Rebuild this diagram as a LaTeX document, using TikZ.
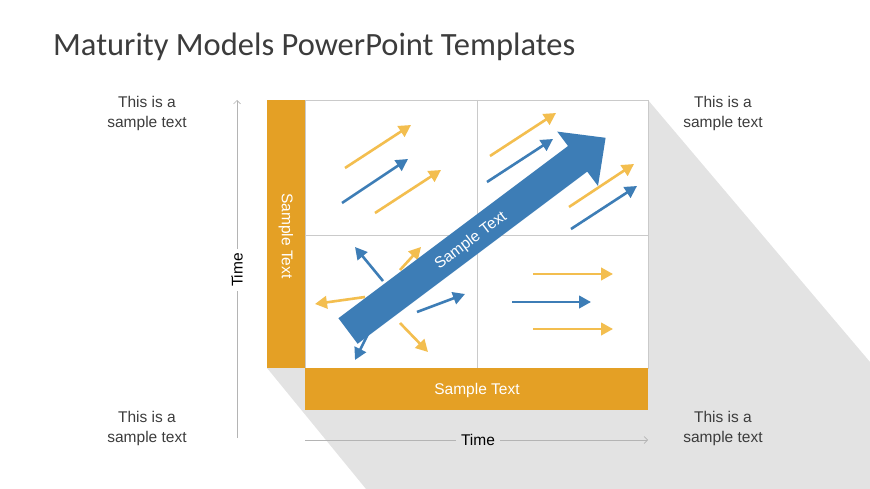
\documentclass[tikz,border=0pt]{standalone}
\usepackage{fontspec}
\setmainfont{Liberation Sans}
\newfontfamily\titlefont{Carlito}
\usepackage{xcolor}
\usepackage{tikz}
\usetikzlibrary{arrows.meta}
\definecolor{barorange}{HTML}{E4A025}
\definecolor{mainblue}{HTML}{3D7DB6}
\definecolor{lightyellow}{HTML}{F3BE4F}
\definecolor{shadowgray}{HTML}{E3E3E3}
\definecolor{textgray}{HTML}{3C3C3C}
\definecolor{axisgray}{HTML}{B4B4B4}
\definecolor{gridgray}{HTML}{CACACA}

\begin{document}
\begin{tikzpicture}[x=1pt, y=-1pt,
    every node/.style={font=\fontsize{15.5}{20}\selectfont, text=textgray, inner sep=1pt},
    note/.style={align=center},
    bar/.style={fill=barorange, draw=none},
    smallarrow/.style={line width=2.6pt, -{Triangle[length=12pt,width=12.5pt]}},
    axis/.style={draw=axisgray, line width=0.7pt, -{Straight Barb[length=3.5pt,width=7pt]}}]
    \useasboundingbox (0,0) rectangle (870,489);

    % Long shadow
    \fill[shadowgray] (648,100) -- (870,362) -- (870,489) -- (366,489) -- (267,368) -- cycle;

    % Title
    \node[anchor=base west, font=\titlefont\fontsize{32.5}{38}\selectfont] (title) at (52,56)
        {Maturity Models PowerPoint Templates};

    % Corner notes
    \node[note] (noteTL) at (147,113) {This is a\\sample text};
    \node[note] (noteTR) at (723,113) {This is a\\sample text};
    \node[note] (noteBL) at (147,428) {This is a\\sample text};
    \node[note] (noteBR) at (723,428) {This is a\\sample text};

    % Axes
    \coordinate (yfrom) at (237,438);
    \coordinate (yto) at (237,100);
    \coordinate (xfrom) at (305,440);
    \coordinate (xto) at (648,440);
    \draw[axis] (yfrom) -- (yto);
    \draw[axis] (xfrom) -- (xto);
    \node[rotate=90, fill=white, inner sep=4pt, text=black] (ytime) at (237,270) {Time};
    \node[fill=shadowgray, inner sep=5pt, text=black] (xtime) at (478,440) {Time};

    % Matrix
    \draw[fill=white, draw=gridgray, line width=0.7pt] (305,100) rectangle (648,368);
    \draw[gridgray, line width=0.7pt] (477,100) -- (477,368);
    \draw[gridgray, line width=0.7pt] (305,235) -- (648,235);

    % Small arrows, top left
    \draw[smallarrow, lightyellow] (345,168) -- (411,125);
    \draw[smallarrow, mainblue] (342,203) -- (408,159);
    \draw[smallarrow, lightyellow] (375,213) -- (441,170);
    % Small arrows, top right
    \draw[smallarrow, lightyellow] (490,156) -- (556,113);
    \draw[smallarrow, mainblue] (487,182) -- (553,139);
    \draw[smallarrow, lightyellow] (569,207) -- (634,164);
    \draw[smallarrow, mainblue] (571,229) -- (637,186);
    % Small arrows, bottom right
    \draw[smallarrow, lightyellow] (533,274) -- (613,274);
    \draw[smallarrow, mainblue] (512,302) -- (591,302);
    \draw[smallarrow, lightyellow] (533,329) -- (613,329);
    % Small arrows, bottom left
    \draw[smallarrow, mainblue] (383,281) -- (355,247);
    \draw[smallarrow, lightyellow] (400,270) -- (421,247);
    \draw[smallarrow, lightyellow] (365,297) -- (315,304);
    \draw[smallarrow, mainblue] (368,334) -- (355,360);
    \draw[smallarrow, mainblue] (417,312) -- (465,294);
    \draw[smallarrow, lightyellow] (400,323) -- (428,352);

    % Big arrow
    \fill[mainblue] (338.4,318.2) -- (568,146) -- (557.2,131.6) -- (605.6,137.8)
        -- (598,186) -- (587.2,171.6) -- (357.6,343.8) -- cycle;
    \node[rotate=37, text=white] (arrowtext) at (471,241) {Sample Text};

    % Bars
    \fill[bar] (267,100) rectangle (305,368);
    \fill[bar] (305,368) rectangle (648,410);
    \node[rotate=-90, text=white] (leftbar) at (286,236) {Sample Text};
    \node[text=white] (bottombar) at (477,390) {Sample Text};
\end{tikzpicture}
\end{document}
